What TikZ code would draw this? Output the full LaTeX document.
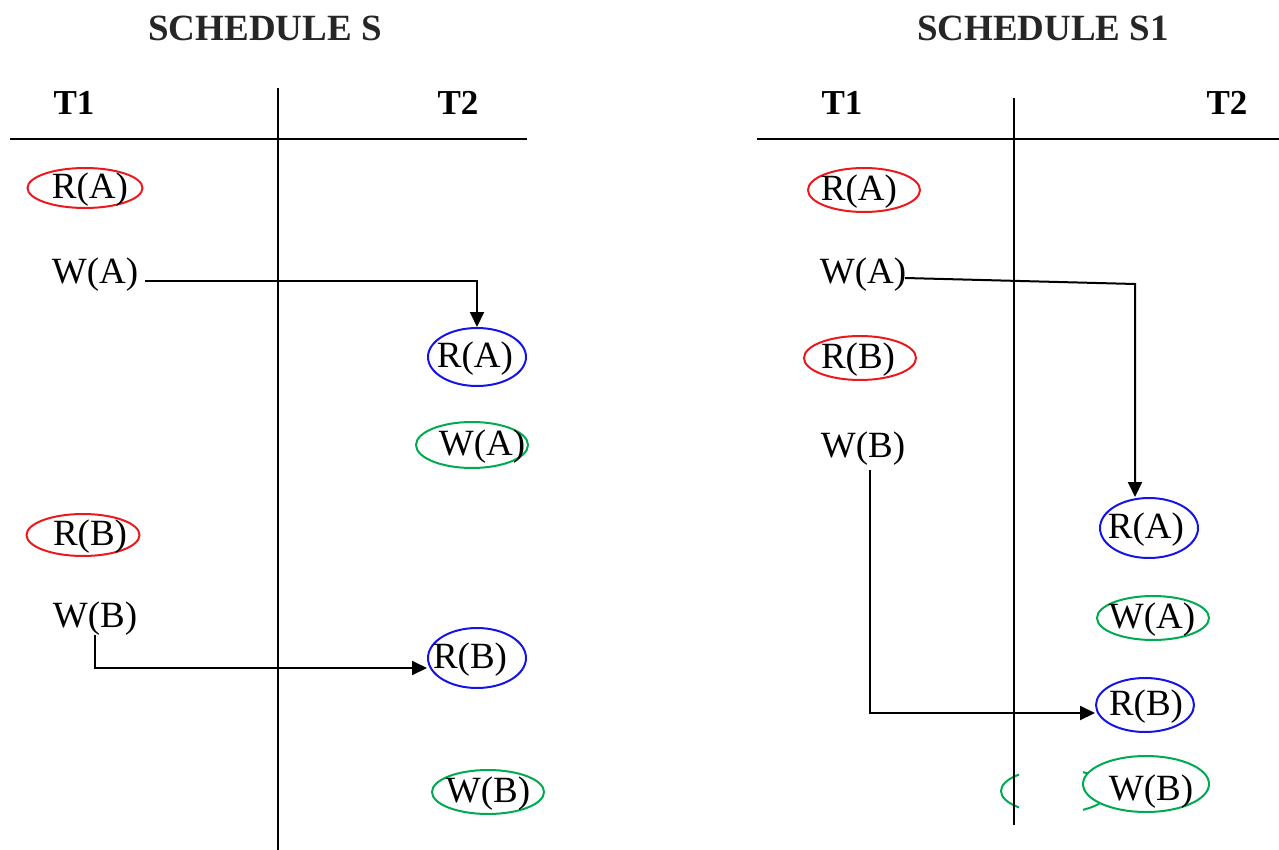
\documentclass[tikz,border=0pt]{standalone}
\usepackage{fontspec}
\setmainfont{Liberation Serif}
\usetikzlibrary{shapes.geometric,arrows.meta}
\definecolor{ered}{RGB}{235,25,30}
\definecolor{eblue}{RGB}{20,20,230}
\definecolor{egreen}{RGB}{0,170,80}
\begin{document}
\begin{tikzpicture}[x=0.5pt,y=-0.5pt,
  lbl/.style={font=\fontsize{18.5}{22}\selectfont, inner sep=0},
  hdr/.style={font=\fontsize{17.5}{20}\selectfont\bfseries, inner sep=0},
  ttl/.style={font=\fontsize{18.5}{22}\selectfont\bfseries, inner sep=0, text=black!85},
  ell/.style={ellipse, draw, line width=1pt, inner sep=0},
  rell/.style={ell, draw=ered},
  bell/.style={ell, draw=eblue},
  gell/.style={ell, draw=egreen},
  rule/.style={line width=1pt},
  arr/.style={line width=1pt, -{Triangle[length=7.5pt,width=7pt]}}]
\useasboundingbox (0,0) rectangle (1279,850);

% ---------- Schedule S ----------
\node[ttl] (tS) at (265,28) {SCHEDULE S};
\node[hdr] (t1L) at (74,103) {T1};
\node[hdr] (t2L) at (458,103) {T2};
\draw[rule] (10,139) -- (527,139);
\draw[rule] (278,88) -- (278,850);

\node[rell, minimum width=57.5pt, minimum height=20pt] (eRAL) at (85,188) {};
\node[lbl] (RAL) at (90,190) {R(A)};
\node[lbl] (WAL) at (95,275) {W(A)};
\node[bell, minimum width=49pt, minimum height=29pt] (eRA2L) at (477,357) {};
\node[lbl] (RA2L) at (475,359) {R(A)};
\node[gell, minimum width=56pt, minimum height=23pt] (eWA2L) at (472,445) {};
\node[lbl] (WA2L) at (482,447) {W(A)};
\node[rell, minimum width=56.5pt, minimum height=21pt] (eRBL) at (83,535) {};
\node[lbl] (RBL) at (90,537) {R(B)};
\node[lbl] (WBL) at (95,619) {W(B)};
\node[bell, minimum width=49pt, minimum height=30pt] (eRB2L) at (477,658) {};
\node[lbl] (RB2L) at (470,660) {R(B)};
\node[gell, minimum width=56pt, minimum height=22pt] (eWB2L) at (488,792) {};
\node[lbl] (WB2L) at (488,794) {W(B)};

\coordinate (aL1) at (145,281);
\draw[arr] (aL1) -| (eRA2L.north);
\coordinate (aL2) at (95,635);
\coordinate (aL2c) at (95,668);
\draw[arr] (aL2) -- (aL2c) -- (eRB2L.west |- aL2c);

% ---------- Schedule S1 ----------
\node[ttl] (tS1) at (1043,28) {SCHEDULE S1};
\node[hdr] (t1R) at (842,103) {T1};
\node[hdr] (t2R) at (1227,103) {T2};
\draw[rule] (757,139) -- (1279,139);

\node[rell, minimum width=56pt, minimum height=22pt] (eRAR) at (864,190) {};
\node[lbl] (RAR) at (859,192) {R(A)};
\node[lbl] (WAR) at (863,275) {W(A)};
\node[rell, minimum width=56pt, minimum height=22pt] (eRBR) at (860,358) {};
\node[lbl] (RBR) at (858,360) {R(B)};
\node[lbl] (WBR) at (863,449) {W(B)};
\node[bell, minimum width=49pt, minimum height=30pt] (eRA2R) at (1149,528) {};
\node[lbl] (RA2R) at (1146,530) {R(A)};
\node[gell, minimum width=56pt, minimum height=22pt] (eWA2R) at (1153,618) {};
\node[lbl] (WA2R) at (1152,620) {W(A)};
\node[bell, minimum width=49pt, minimum height=27pt] (eRB2R) at (1145,705) {};
\node[lbl] (RB2R) at (1146,707) {R(B)};

% partly hidden ellipse
\node[gell, minimum width=54pt, minimum height=22pt] (eGhost) at (1055,791) {};
\fill[white] (1019,758) rectangle (1083,824);
\node[gell, fill=white, minimum width=63pt, minimum height=28pt] (eWB2R) at (1146,784) {};
\node[lbl] (WB2R) at (1151,792) {W(B)};

\draw[rule] (1014,98) -- (1014,825);

\coordinate (aR1) at (905,278);
\coordinate (aR1c) at (1135,284);
\draw[arr] (aR1) -- (aR1c) -- (aR1c |- eRA2R.north);
\coordinate (aR2) at (870,470);
\coordinate (aR2c) at (870,713);
\draw[arr] (aR2) -- (aR2c) -- (eRB2R.west |- aR2c);
\end{tikzpicture}
\end{document}
